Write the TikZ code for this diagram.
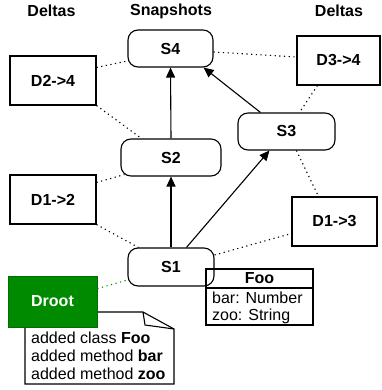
\documentclass[tikz,border=0pt]{standalone}
\usepackage{fontspec}
\setmainfont{Liberation Sans}
\usetikzlibrary{arrows.meta,calc}
\definecolor{drootgreen}{RGB}{0,138,0}
\definecolor{drootborder}{RGB}{0,110,0}
\tikzset{
  x=1pt,y=-1pt,
  every node/.style={font=\fontsize{16}{18}\selectfont},
  snap/.style={draw,line width=1.1pt,rounded corners=10pt,minimum height=37pt,inner sep=0pt,font=\fontsize{16}{18}\selectfont\bfseries},
  delta/.style={draw,line width=1.1pt,minimum height=49pt,inner sep=0pt,font=\fontsize{16}{18}\selectfont\bfseries},
  hdr/.style={font=\fontsize{16}{18}\selectfont\bfseries},
  dotline/.style={line width=1.1pt,dash pattern=on 1.2pt off 3.5pt},
  arr/.style={line width=1.1pt,-{Triangle[length=10pt,width=9pt]}},
}
\begin{document}
\begin{tikzpicture}
\useasboundingbox (0,0) rectangle (381,390);
% headers
\node[hdr] (h1) at (51.5,11) {Deltas};
\node[hdr] (h2) at (171,11) {Snapshots};
\node[hdr] (h3) at (339,11) {Deltas};
% snapshots
\node[snap,minimum width=85pt] (s4) at (170.5,48.5) {S4};
\node[snap,minimum width=100pt] (s2) at (171,157.5) {S2};
\node[snap,minimum width=97pt] (s3) at (286.5,131.5) {S3};
\node[snap,minimum width=86pt,minimum height=38pt] (s1) at (171,267) {S1};
% deltas
\node[delta,minimum width=86pt] (d24) at (53,80.5) {D2->4};
\node[delta,minimum width=86pt] (d12) at (53,199.5) {D1->2};
\node[delta,minimum width=83pt] (d34) at (338.5,60.5) {D3->4};
\node[delta,minimum width=85pt] (d13) at (334.5,221.5) {D1->3};
% class Foo
\node[draw,line width=1.1pt,minimum width=107pt,minimum height=56pt,inner sep=0pt] (foo) at (259.5,297) {};
\draw[line width=1.1pt] (206,288) -- (313,288);
\node[font=\fontsize{16}{18}\selectfont\bfseries] (fooname) at (259.5,278.5) {Foo};
\node[anchor=west,inner sep=0pt] (foobar) at (212,297.5) {bar: Number};
\node[anchor=west,inner sep=0pt] (foozoo) at (212,316) {zoo: String};
% note
\draw[line width=1.1pt,fill=white] (25,312) -- (143,312) -- (174,329) -- (174,384) -- (25,384) -- cycle;
\draw[line width=1.1pt] (143,312) -- (145,325) -- (174,329);
\node[anchor=west,align=left,inner sep=0pt] (notetxt) at (31,356) {added class \textbf{Foo}\\added method \textbf{bar}\\added method \textbf{zoo}};
% Droot
\node[draw=drootborder,fill=drootgreen,line width=0.8pt,minimum width=89pt,minimum height=51pt,inner sep=0pt,text=white,font=\fontsize{16}{18}\selectfont\bfseries] (droot) at (52.5,301.5) {Droot};
% arrows
\draw[arr] (s1.north) -- (s2.south);
\draw[arr] (s2.north) -- (s4.south);
\draw[arr] ([xshift=59pt]s1.north west) -- ([xshift=32pt]s3.south west);
\draw[arr] ([xshift=23pt]s3.north west) -- ([xshift=-10pt]s4.south east);
% dotted links
\draw[dotline] ([yshift=-12pt]d24.north east) -- ([yshift=-12.5pt]s4.west);
\draw[dotline] (d24.south east) -- ([xshift=21pt]s2.north west);
\draw[dotline] ([yshift=-8pt]d12.north east) -- ([xshift=4pt,yshift=2pt]s2.south west);
\draw[dotline] (d12.south east) -- ([xshift=11pt]s1.north west);
\draw[dotline] ([yshift=-3.5pt]s4.east) -- ([yshift=3.5pt]d34.west);
\draw[dotline] ([xshift=21pt]d34.south west) -- ([xshift=62pt]s3.north west);
\draw[dotline] ([xshift=59pt]s3.south west) -- ([xshift=27pt]d13.north west);
\draw[dotline] ([yshift=12pt]s1.east) -- ([yshift=-12pt]d13.west);
\draw[dotline,draw=drootgreen] ([yshift=-13pt]droot.north east) -- ([yshift=-13pt]s1.west);
\end{tikzpicture}
\end{document}
